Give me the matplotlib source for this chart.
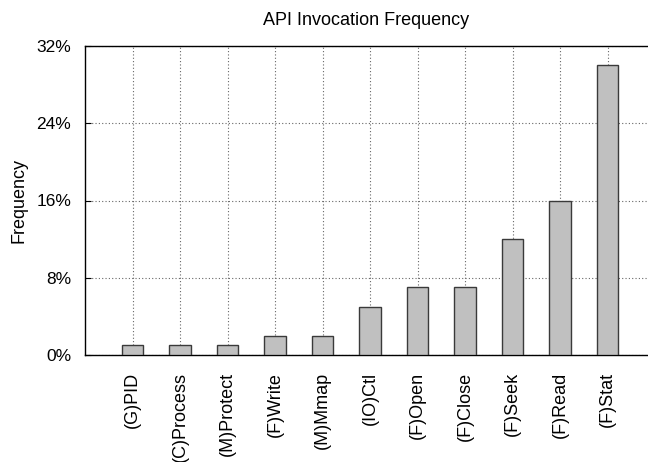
import numpy as np
import matplotlib
matplotlib.use("Agg")
import matplotlib.pyplot as plt
from matplotlib.ticker import FuncFormatter

plt.rcParams['font.family'] = ['Liberation Sans', 'DejaVu Sans']

# --- Data ---
apis = ["(G)PID", "(C)Process", "(M)Protect", "(F)Write", "(M)Mmap",
        "(IO)Ctl", "(F)Open", "(F)Close", "(F)Seek", "(F)Read", "(F)Stat"]
freq_pct = [1, 1, 1, 2, 2, 5, 7, 7, 12, 16, 30]
y_ticks = [0, 8, 16, 24, 32]

fig = plt.figure(figsize=(6.48, 4.62), dpi=100)
# frame runs a little past the right edge of the canvas
ax = fig.add_axes([85 / 648, 1 - 355 / 462, 570 / 648, 309 / 462])

x = np.arange(len(apis))
ax.bar(x, freq_pct, width=0.46, color='#c0c0c0', edgecolor='#3a3a3a',
       linewidth=1.0, zorder=3)

ax.set_xlim(-1, len(apis))
ax.set_ylim(0, 32)
ax.set_yticks(y_ticks)
ax.yaxis.set_major_formatter(FuncFormatter(lambda v, _: f"{v:.0f}%"))
ax.set_xticks(x)
ax.set_xticklabels(apis, rotation=90, fontsize=13)
ax.tick_params(axis='y', labelsize=12.5, direction='in', length=4, pad=10)
ax.tick_params(axis='x', length=0, pad=12)

ax.grid(True, linestyle=(0, (1, 2)), color='#666666', linewidth=0.8, zorder=0)
for s in ax.spines.values():
    s.set_linewidth(1.0)
    s.set_color('black')

ax.set_ylabel("Frequency", fontsize=13, labelpad=6)
ax.set_title("API Invocation Frequency", fontsize=13, pad=15, x=(366 - 85) / 570)

fig.savefig("out.png", dpi=100)
